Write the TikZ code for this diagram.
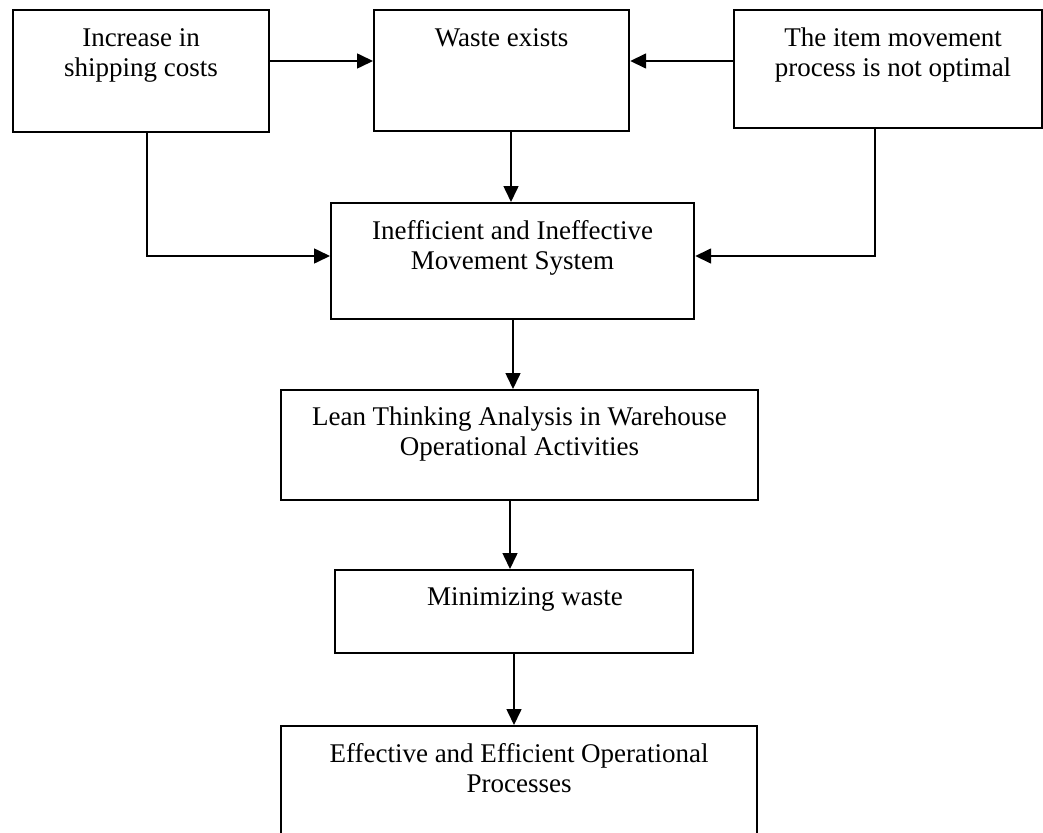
\documentclass[tikz,border=0pt]{standalone}
\usepackage{fontspec}
\setmainfont{Liberation Serif}
\usetikzlibrary{arrows.meta,calc}
\newcommand\bxt[3]{\parbox[t][#2][t]{#1}{\centering\rule{0pt}{36pt}#3}}
\begin{document}
\begin{tikzpicture}[x=1pt,y=-1pt,
  box/.style={draw, line width=2.2pt, inner sep=0pt, anchor=north west,
    font=\fontsize{27}{30}\selectfont},
  arr/.style={line width=1.6pt, -{Triangle[length=16pt,width=15pt]}}]
\useasboundingbox (0,0) rectangle (1043,832);
\clip (0,0) rectangle (1043,832);
\node[box] (b1) at (12,9) {\bxt{256pt}{122pt}{Increase in\\shipping costs}};
\node[box] (b2) at (373,9) {\bxt{255pt}{121pt}{Waste exists}};
\node[box] (b3) at (733,9) {\bxt{308pt}{118pt}{\hspace*{10pt}The item movement\\\hspace*{10pt}process is not optimal}};
\node[box] (b4) at (330,202) {\bxt{363pt}{116pt}{Inefficient and Ineffective\\Movement System}};
\node[box, line width=1.8pt] (b5) at (280,389) {\bxt{477pt}{110pt}{Lean Thinking Analysis in Warehouse\\Operational Activities}};
\node[box, line width=1.8pt] (b6) at (334,569) {\bxt{358pt}{83pt}{\hspace*{22pt}Minimizing waste}};
\node[box] (b7) at (280,725) {\bxt{476pt}{130pt}{Effective and Efficient Operational\\Processes}};
\coordinate (ya) at (0,61);
\coordinate (yb) at (0,256);
\coordinate (xa) at (147,0);
\coordinate (xb) at (875,0);
\coordinate (xc) at (511,0);
\coordinate (xd) at (513,0);
\coordinate (xe) at (510,0);
\coordinate (xf) at (514,0);
\draw[arr] (b1.east |- ya) -- (b2.west |- ya);
\draw[arr] (b3.west |- ya) -- (b2.east |- ya);
\draw[arr] (b2.south -| xc) -- (b4.north -| xc);
\draw[arr] (b1.south -| xa) |- (b4.west |- yb);
\draw[arr] (b3.south -| xb) |- (b4.east |- yb);
\draw[arr] (b4.south -| xd) -- (b5.north -| xd);
\draw[arr] (b5.south -| xe) -- (b6.north -| xe);
\draw[arr] (b6.south -| xf) -- (b7.north -| xf);
\end{tikzpicture}
\end{document}
